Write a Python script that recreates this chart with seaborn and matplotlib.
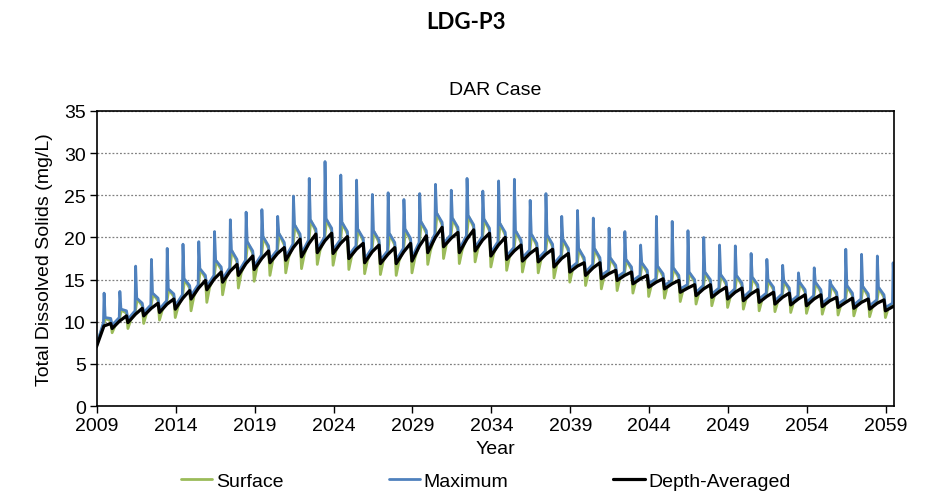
import matplotlib
matplotlib.use("Agg")
import matplotlib.pyplot as plt
import pandas as pd
import seaborn as sns

# one value per spike year (2009..2059) (mg/L)
years = list(range(2009, 2060))

# Depth-Averaged: trough before the year, level at the spike, level before the drop
da_low = [7.0, 9.2, 9.9, 10.7, 11.1, 11.5, 12.7, 13.8, 14.7, 15.5, 16.2, 17.0, 17.3, 17.7, 18.2, 18.1, 17.5,
          17.0, 16.9, 16.9, 17.2, 18.2, 18.9, 18.2, 18.4, 17.8, 17.4, 17.2, 17.1, 16.5, 15.9, 15.5, 15.1, 14.9,
          14.5, 14.1, 13.9, 13.5, 13.1, 12.9, 12.7, 12.5, 12.3, 12.1, 12.0, 11.9, 11.8, 11.7, 11.6, 11.5, 11.3]
da_mid = [9.5, 10.1, 10.9, 11.6, 12.1, 12.8, 14.0, 15.1, 16.0, 16.9, 17.5, 18.1, 18.8, 19.3, 19.6, 19.3, 18.6,
          18.3, 18.0, 18.3, 19.0, 20.0, 19.9, 19.8, 19.7, 19.1, 18.4, 18.1, 18.0, 17.5, 16.6, 16.4, 15.7, 15.5,
          15.1, 14.7, 14.5, 14.0, 13.9, 13.6, 13.5, 13.3, 13.0, 12.9, 12.7, 12.7, 12.5, 12.3, 12.3, 12.2, 11.8]
da_high = [9.8, 10.7, 11.6, 12.2, 12.7, 13.7, 14.9, 15.9, 16.8, 17.8, 18.4, 18.8, 19.8, 20.4, 20.5, 20.1, 19.3,
           19.1, 18.8, 19.3, 20.2, 21.2, 20.6, 20.9, 20.5, 20.0, 19.1, 18.7, 18.6, 18.1, 17.0, 17.0, 16.1, 15.9,
           15.5, 15.1, 14.9, 14.4, 14.4, 14.1, 14.0, 13.8, 13.5, 13.4, 13.2, 13.2, 12.9, 12.8, 12.7, 12.6, 12.1]

# Maximum: low after drop, pre-spike, spike peak, plateau after spike, level before drop
mx_low = [7.2, 9.6, 10.3, 11.1, 11.5, 11.9, 13.1, 14.2, 15.1, 15.9, 16.6, 17.4, 17.7, 18.1, 18.6, 18.5, 17.9,
          17.4, 17.3, 17.3, 17.6, 18.6, 19.3, 18.6, 18.8, 18.2, 17.8, 17.6, 17.5, 16.9, 16.3, 15.9, 15.5, 15.3,
          14.9, 14.5, 14.3, 13.9, 13.5, 13.3, 13.1, 12.9, 12.7, 12.5, 12.4, 12.3, 12.2, 12.1, 12.0, 11.9, 11.7]
mx_pre = [9.9, 10.5, 11.3, 12.0, 12.5, 13.2, 14.4, 15.5, 16.4, 17.3, 17.9, 18.5, 19.2, 19.7, 20.0, 19.7, 19.0,
          18.7, 18.4, 18.7, 19.4, 20.4, 20.3, 20.2, 20.1, 19.5, 18.8, 18.5, 18.4, 17.9, 17.0, 16.8, 16.1, 15.9,
          15.5, 15.1, 14.9, 14.4, 14.3, 14.0, 13.9, 13.7, 13.4, 13.3, 13.1, 13.1, 12.9, 12.7, 12.7, 12.6, 12.2]
mx_peak = [13.4, 13.6, 16.6, 17.4, 18.7, 19.2, 19.5, 20.7, 22.1, 23.0, 23.3, 22.5, 24.9, 27.0, 29.0, 27.4, 26.8,
           25.1, 25.3, 24.5, 25.2, 26.3, 25.6, 27.0, 25.5, 26.7, 26.9, 24.4, 25.2, 22.5, 23.2, 22.3, 21.1, 20.7,
           19.1, 22.5, 21.9, 20.8, 20.0, 19.1, 19.0, 18.1, 17.4, 16.7, 15.8, 16.4, 14.9, 18.6, 18.0, 17.8, 17.0]
mx_plat = [10.5, 11.5, 12.8, 13.4, 13.9, 15.1, 16.3, 17.3, 18.5, 19.5, 20.1, 20.5, 21.5, 22.1, 22.2, 21.8, 21.0,
           20.8, 20.5, 21.0, 21.9, 22.9, 22.3, 22.6, 22.2, 21.7, 20.8, 20.4, 20.3, 19.8, 18.7, 18.7, 17.6, 17.4,
           17.0, 16.6, 16.4, 15.9, 15.9, 15.6, 15.5, 15.3, 15.0, 14.9, 14.7, 14.7, 14.4, 14.3, 14.2, 14.1, 13.6]
mx_end = [10.4, 11.3, 12.2, 12.8, 13.3, 14.3, 15.5, 16.5, 17.4, 18.4, 19.0, 19.4, 20.4, 21.0, 21.1, 20.7, 19.9,
          19.7, 19.4, 19.9, 20.8, 21.8, 21.2, 21.5, 21.1, 20.6, 19.7, 19.3, 19.2, 18.7, 17.6, 17.6, 16.7, 16.5,
          16.1, 15.7, 15.5, 15.0, 15.0, 14.7, 14.6, 14.4, 14.1, 14.0, 13.8, 13.8, 13.5, 13.4, 13.3, 13.2, 12.7]

# Surface: trough, recovered level, pre-spike, plateau, level before drop
sf_low = [7.0, 8.7, 9.2, 9.8, 10.2, 10.5, 11.3, 12.3, 13.2, 14.0, 14.8, 15.5, 15.8, 16.3, 16.8, 16.7, 16.2,
          15.7, 15.6, 15.5, 15.8, 16.8, 17.5, 16.9, 17.1, 16.5, 16.1, 15.9, 15.8, 15.2, 14.7, 14.3, 13.9, 13.7,
          13.4, 13.0, 12.8, 12.4, 12.1, 11.9, 11.7, 11.5, 11.3, 11.2, 11.1, 11.0, 10.9, 10.8, 10.7, 10.6, 10.5]
sf_mid = [8.2, 9.5, 10.2, 11.0, 11.4, 11.8, 13.0, 14.1, 15.0, 15.8, 16.5, 17.3, 17.6, 18.0, 18.5, 18.4, 17.8,
          17.3, 17.2, 17.2, 17.5, 18.5, 19.2, 18.5, 18.7, 18.1, 17.7, 17.5, 17.4, 16.8, 16.2, 15.8, 15.4, 15.2,
          14.8, 14.4, 14.2, 13.8, 13.4, 13.2, 13.0, 12.8, 12.6, 12.4, 12.3, 12.2, 12.1, 12.0, 11.9, 11.8, 11.6]
sf_pre = [9.8, 10.4, 11.2, 11.9, 12.4, 13.1, 14.3, 15.4, 16.3, 17.2, 17.8, 18.4, 19.1, 19.6, 19.9, 19.6, 18.9,
          18.6, 18.3, 18.6, 19.3, 20.3, 20.2, 20.1, 20.0, 19.4, 18.7, 18.4, 18.3, 17.8, 16.9, 16.7, 16.0, 15.8,
          15.4, 15.0, 14.8, 14.3, 14.2, 13.9, 13.8, 13.6, 13.3, 13.2, 13.0, 13.0, 12.8, 12.6, 12.6, 12.5, 12.1]
sf_plat = [10.4, 11.4, 12.7, 13.3, 13.8, 15.0, 16.2, 17.2, 18.4, 19.4, 20.0, 20.4, 21.4, 22.0, 22.1, 21.7, 20.9,
           20.7, 20.4, 20.9, 21.8, 22.8, 22.2, 22.5, 22.1, 21.6, 20.7, 20.3, 20.2, 19.7, 18.6, 18.6, 17.5, 17.3,
           16.9, 16.5, 16.3, 15.8, 15.8, 15.5, 15.4, 15.2, 14.9, 14.8, 14.6, 14.6, 14.3, 14.2, 14.1, 14.0, 13.5]
sf_end = [10.1, 11.0, 11.9, 12.5, 13.0, 14.0, 15.2, 16.2, 17.1, 18.1, 18.7, 19.1, 20.1, 20.7, 20.8, 20.4, 19.6,
          19.4, 19.1, 19.6, 20.5, 21.5, 20.9, 21.2, 20.8, 20.3, 19.4, 19.0, 18.9, 18.4, 17.3, 17.3, 16.4, 16.2,
          15.8, 15.4, 15.2, 14.7, 14.7, 14.4, 14.3, 14.1, 13.8, 13.7, 13.5, 13.5, 13.2, 13.1, 13.0, 12.9, 12.4]

# where in each year the features sit (fraction of year)
blk_pos = [-0.03, 0.45, 0.88]
max_pos = [-0.03, 0.42, 0.46, 0.53, 0.88]
sfc_pos = [-0.03, 0.15, 0.44, 0.56, 0.88]


def _series(name, pos, cols):
    rows = []
    for i, y in enumerate(years):
        for p, col in zip(pos, cols):
            rows.append({"year": y + p, "tds": col[i], "series": name})
    return pd.DataFrame(rows)


surface = _series("Surface", sfc_pos, [sf_low, sf_mid, sf_pre, sf_plat, sf_end])
maximum = _series("Maximum", max_pos, [mx_low, mx_pre, mx_peak, mx_plat, mx_end])
depth = _series("Depth-Averaged", blk_pos, [da_low, da_mid, da_high])

sns.set_theme(style="white")
plt.rcParams["font.family"] = ["Liberation Sans", "DejaVu Sans"]
for key in ["text.color", "axes.labelcolor", "xtick.color", "ytick.color"]:
    plt.rcParams[key] = "black"

fig = plt.figure(figsize=(9.31, 5.02), dpi=100)
ax = fig.add_axes([0.104, 0.189, 0.856, 0.588])

sns.lineplot(data=surface, x="year", y="tds", color="#9BBB59", linewidth=2.0, label="Surface",
             estimator=None, sort=False, ax=ax)
sns.lineplot(data=maximum, x="year", y="tds", color="#4F81BD", linewidth=2.0, label="Maximum",
             estimator=None, sort=False, ax=ax)
sns.lineplot(data=depth, x="year", y="tds", color="black", linewidth=2.3, label="Depth-Averaged",
             estimator=None, sort=False, ax=ax)

ax.set_xlim(2009, 2059.5)
ax.set_ylim(0, 35)
ax.set_xticks(range(2009, 2060, 5))
ax.set_yticks(range(0, 36, 5))
ax.yaxis.grid(True, color="#808080", linestyle=(0, (1.5, 1.5)), linewidth=0.9)
ax.set_axisbelow(True)
for s in ax.spines.values():
    s.set_color("black")
    s.set_linewidth(1.2)
ax.tick_params(axis="both", direction="out", length=5, width=1, color="black", labelsize=14, pad=3,
               bottom=True, left=True)
ax.set_xlabel("Year", fontsize=14, labelpad=4)
ax.set_ylabel("Total Dissolved Solids (mg/L)", fontsize=14, labelpad=8)
ax.set_title("DAR Case", fontsize=14, pad=12)

fig.text(0.5, 0.956, "LDG-P3", ha="center", va="center", fontsize=16, fontweight="bold",
         family=["Lato", "DejaVu Sans"])

ax.legend(loc="center", bbox_to_anchor=(0.522, 0.04), bbox_transform=fig.transFigure, ncol=3,
          frameon=False, fontsize=14, handlelength=1.6, handletextpad=0.2, columnspacing=5.4)

plt.savefig("out.png", dpi=100)
plt.close()
